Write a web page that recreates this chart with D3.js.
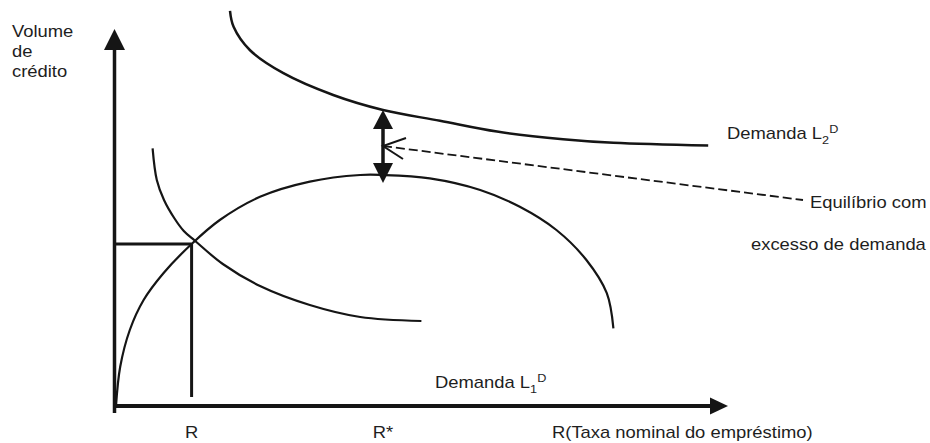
<!DOCTYPE html>
<html>
<head>
<meta charset="utf-8">
<script src="https://cdn.jsdelivr.net/npm/d3@7"></script>
<style>
  body { margin: 0; background: #fff; }
  svg text { font-family: "Liberation Sans", Arial, sans-serif; fill: #1e1e1e; }
</style>
</head>
<body>
<div id="container"></div>
<script>
// curves, in chart units (x: rate 0-100, y: volume 0-100)
const supplyX = [0, 0.7, 2.3, 4.6, 7.9, 12.6, 17.3, 24, 32.3, 40.7, 44.5, 52.3, 60.7, 67.3, 73.4, 78.4, 81.8, 82.9];
const supplyY = [0, 9.8, 19, 26.5, 33.2, 40.5, 46.5, 52.3, 56.1, 57.75, 57.75, 56.9, 54, 49.8, 44, 36.5, 28.2, 19.4];

const demand1X = [6.1, 6.8, 8, 9.7, 11.3, 13.2, 17.8, 24, 32.3, 40.7, 50.9];
const demand1Y = [64.4, 56.5, 51.5, 47, 43.75, 41.25, 35.5, 30, 25.25, 22.25, 21.25];

const demand2X = [19, 19.6, 22.3, 27.9, 36.2, 44.5, 54, 63.5, 74.5, 82.9, 98.7];
const demand2Y = [98.8, 94.8, 89, 83.2, 77.75, 74, 71.3, 68.6, 66.7, 65.8, 65.1];

const rEq = 12.6, volEq = 40.5;     // where L1 demand meets the supply curve
const rStar = 44.5;                  // rate of the excess-demand gap
const gapTop = 74, gapBottom = 57.5;

const tickValues = [rEq, rStar];
const tickLabels = ['R', 'R*'];
const axisTitleX = 'R(Taxa nominal do empréstimo)';
const axisTitleY = ['Volume', 'de', 'crédito'];

let svg = d3.select('#container').append('svg')
  .attr('width', 930)
  .attr('height', 443);

const x = d3.scaleLinear().domain([0, 100]).range([116, 716]);
const y = d3.scaleLinear().domain([0, 100]).range([406, 6]);
const ink = '#151515';
const stretch = 1.15;   // the source type is a bit wider than Arial

const line = d3.line()
  .x((d) => x(d[0]))
  .y((d) => y(d[1]))
  .curve(d3.curveCatmullRom.alpha(0.5));

function drawCurve(xs, ys, width) {
  svg.append('path')
    .attr('d', line(xs.map((v, i) => [v, ys[i]])))
    .attr('fill', 'none')
    .attr('stroke', ink)
    .attr('stroke-width', width);
}

function triangle(tx, ty, dir, len, half) {
  // dir: 'up' | 'down' | 'right'
  let pts;
  if (dir === 'up') pts = [[tx, ty], [tx - half, ty + len], [tx + half, ty + len]];
  else if (dir === 'down') pts = [[tx, ty], [tx - half, ty - len], [tx + half, ty - len]];
  else pts = [[tx, ty], [tx - len, ty - half], [tx - len, ty + half]];
  svg.append('path')
    .attr('d', 'M' + pts.join('L') + 'Z')
    .attr('fill', ink);
}

function label(txt, px, py, anchor) {
  return svg.append('text')
    .attr('transform', `translate(${px}, ${py}) scale(${stretch}, 1)`)
    .attr('text-anchor', anchor || 'start')
    .style('font-size', '16px')
    .text(txt);
}

function subSup(px, py, sub) {
  const t = label('Demanda L', px, py);
  t.append('tspan').attr('dy', 4.5).style('font-size', '11px').text(sub);
  t.append('tspan').attr('dy', -10.5).style('font-size', '11px').text('D');
}

// axes
svg.append('line')
  .attr('x1', x(-0.4)).attr('x2', x(99))
  .attr('y1', y(0)).attr('y2', y(0))
  .attr('stroke', ink).attr('stroke-width', 4);
triangle(x(102), y(0), 'right', 18, 8.5);

svg.append('line')
  .attr('x1', x(-0.25)).attr('x2', x(-0.25))
  .attr('y1', y(-1.75)).attr('y2', y(90))
  .attr('stroke', ink).attr('stroke-width', 3.5);
triangle(x(-0.25), y(94.25), 'up', 21, 10.5);

// equilibrium guides
svg.append('line')
  .attr('x1', x(0)).attr('x2', x(rEq))
  .attr('y1', y(volEq)).attr('y2', y(volEq))
  .attr('stroke', ink).attr('stroke-width', 3);
svg.append('line')
  .attr('x1', x(rEq)).attr('x2', x(rEq))
  .attr('y1', y(volEq)).attr('y2', y(2.25))
  .attr('stroke', ink).attr('stroke-width', 3);

// curves
drawCurve(supplyX, supplyY, 2.2);
drawCurve(demand1X, demand1Y, 2.2);
drawCurve(demand2X, demand2Y, 2.5);

// double arrow for the excess demand
svg.append('line')
  .attr('x1', x(rStar)).attr('x2', x(rStar))
  .attr('y1', y(gapTop) + 10).attr('y2', y(gapBottom) - 6)
  .attr('stroke', ink).attr('stroke-width', 3.5);
triangle(x(rStar), y(gapTop), 'up', 19, 10);
triangle(x(rStar), y(gapBottom) + 7, 'down', 20, 10);

// dashed pointer with open head
const ptr = [[rStar, 65], [114.5, 51.5]];
svg.append('line')
  .attr('x1', x(ptr[0][0])).attr('y1', y(ptr[0][1]))
  .attr('x2', x(ptr[1][0])).attr('y2', y(ptr[1][1]))
  .attr('stroke', ink).attr('stroke-width', 1.8)
  .attr('stroke-dasharray', '9,4');
svg.append('path')
  .attr('d', `M${x(rStar) + 23},${y(65) - 8}L${x(rStar)},${y(65)}L${x(rStar) + 20},${y(65) + 13}`)
  .attr('fill', 'none')
  .attr('stroke', ink)
  .attr('stroke-width', 2);

// texts
axisTitleY.forEach((t, i) => label(t, 12, 36.5 + i * 20.3));
tickValues.forEach((v, i) => label(tickLabels[i], x(v), 438, 'middle'));
label(axisTitleX, 552, 438);

subSup(727, 139, '2');
subSup(435, 388, '1');
label('Equilíbrio com', 810, 208);
label('excesso de demanda', 751, 250);
</script>
</body>
</html>
